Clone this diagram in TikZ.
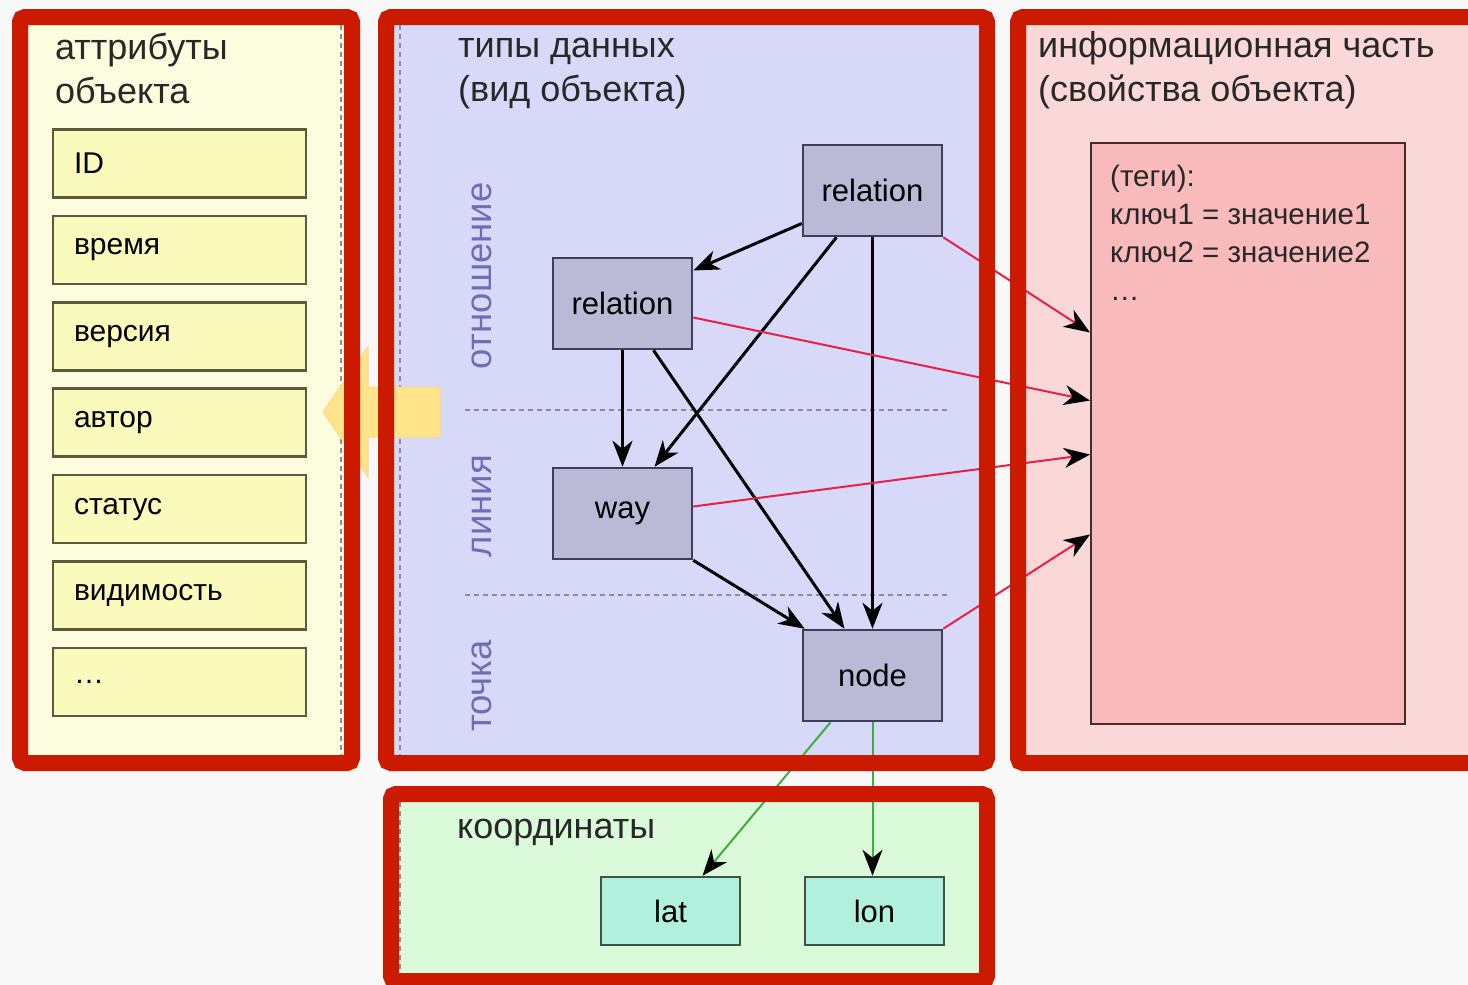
\documentclass[tikz,border=0pt]{standalone}
\usepackage{fontspec}
\setmainfont{Liberation Sans}
\usetikzlibrary{arrows.meta}
\definecolor{bggrey}{RGB}{248,248,248}
\definecolor{framered}{RGB}{204,26,0}
\definecolor{attrpanel}{RGB}{252,252,222}
\definecolor{attrfill}{RGB}{250,250,188}
\definecolor{attrline}{RGB}{90,90,60}
\definecolor{typepanel}{RGB}{216,216,248}
\definecolor{typefill}{RGB}{186,186,214}
\definecolor{typeline}{RGB}{62,62,92}
\definecolor{infopanel}{RGB}{250,216,216}
\definecolor{tagfill}{RGB}{248,186,186}
\definecolor{tagline}{RGB}{72,42,42}
\definecolor{coordpanel}{RGB}{218,250,218}
\definecolor{coordfill}{RGB}{176,240,220}
\definecolor{coordline}{RGB}{62,82,72}
\definecolor{levelblue}{RGB}{110,110,180}
\definecolor{sepgrey}{RGB}{140,140,165}
\definecolor{tagred}{RGB}{230,32,70}
\definecolor{coordgreen}{RGB}{60,176,60}
\definecolor{bigarrow}{RGB}{255,228,140}
\definecolor{titlegrey}{RGB}{40,40,40}
\tikzset{frame/.style={draw=framered, line width=16pt, rounded corners=5pt},
            title/.style={anchor=base west, align=left, inner sep=0pt, text=titlegrey,
                font=\fontsize{36}{44}\selectfont},
            level/.style={rotate=90, anchor=base, inner sep=0pt, text=levelblue,
                font=\fontsize{36.5}{40}\selectfont},
            attrbox/.style={draw=attrline, fill=attrfill, line width=2.5pt, minimum height=68pt,
                text width=211pt, inner xsep=21pt, align=left, font=\fontsize{30}{34}\selectfont},
            typebox/.style={draw=typeline, fill=typefill, line width=2.5pt, minimum width=139pt,
                minimum height=91pt, font=\fontsize{31}{34}\selectfont},
            coordbox/.style={draw=coordline, fill=coordfill, line width=2.5pt, minimum width=139pt,
                minimum height=68pt, font=\fontsize{31}{34}\selectfont},
            tip/.style={-{Stealth[length=26pt,width=20pt,inset=8pt,color=black]}},
            edge/.style={tip, line width=3pt},
            tagedge/.style={tip, draw=tagred, line width=2pt},
            coordedge/.style={tip, draw=coordgreen, line width=2pt},
            sep/.style={draw=sepgrey, line width=1.5pt, dash pattern=on 5pt off 4pt}}
\begin{document}
\begin{tikzpicture}[x=1pt,y=-1pt]
            \useasboundingbox (0,0) rectangle (1468,985);
            \fill[bggrey] (0,0) rectangle (1468,985);
            % panels
            \fill[attrpanel] (20,17) rectangle (352,763);
            \fill[typepanel] (386,17) rectangle (987,763);
            \fill[infopanel] (1018,17) rectangle (1476,763);
            \fill[coordpanel] (391,794) rectangle (987,981);
            \draw[sep] (341,25) -- (341,755);
            \draw[sep] (400,25) -- (400,755);
            \draw[sep] (400,802) -- (400,973);
            \draw[sep] (465,410) -- (948,410);
            \draw[sep] (465,595) -- (948,595);
            % big arrow
            \filldraw[fill=bigarrow, draw=bigarrow!90!orange, line width=1pt]
                (440,387) -- (368,387) -- (368,347) -- (323,412) -- (368,477) -- (368,437) -- (440,437) -- cycle;
            % titles (anchored at the last line)
            \node[title] (attrtitle) at (55,103) {аттрибуты\\объекта};
            \node[title] (typetitle) at (458,101) {типы данных\\(вид объекта)};
            \node[title] (infotitle) at (1038,101) {информационная часть\\(свойства объекта)};
            \node[title] (coordtitle) at (457,838) {координаты};
            \node[level] (lvlrel) at (491,276) {отношение};
            \node[level] (lvlway) at (491,506) {линия};
            \node[level] (lvlnode) at (491,686) {точка};
            % attributes
            \foreach \lbl [count=\i from 0] in {ID,время,версия,автор,статус,видимость,\ldots}
                \node[attrbox] (attr\i) at (179.5,163.5+86.4*\i) {\lbl};
            % object types
            \node[typebox] (relA) at (872.5,190.5) {relation};
            \node[typebox] (relB) at (622.5,303.5) {relation};
            \node[typebox] (way) at (622.5,513.5) {way};
            \node[typebox] (nd) at (872.5,675.5) {node};
            % tags
            \node[draw=tagline, fill=tagfill, line width=2pt, minimum width=314pt, minimum height=581pt]
                (tags) at (1248,433.5) {};
            \node[anchor=base west, align=left, inner sep=0pt, text=titlegrey,
                font=\fontsize{29.5}{38}\selectfont] (tagtext) at (1110,300)
                {(теги):\\ключ1 = значение1\\ключ2 = значение2\\\ldots};
            % coordinates
            \node[coordbox] (lat) at (670.5,911) {lat};
            \node[coordbox] (lon) at (874.5,911) {lon};
            % links
            \draw[edge] ([yshift=-33pt]relA.west) -- ([yshift=33pt]relB.east);
            \draw[edge] ([xshift=-36pt]relA.south) -- ([xshift=32pt]way.north);
            \draw[edge] (relA.south) -- (nd.north);
            \draw[edge] (relB.south) -- (way.north);
            \draw[edge] ([xshift=31pt]relB.south) -- ([xshift=-28pt]nd.north);
            \draw[edge] (way.south east) -- ([xshift=3pt]nd.north west);
            \draw[tagedge] (relA.south east) -- ([yshift=101pt]tags.west);
            \draw[tagedge] ([yshift=-14pt]relB.east) -- ([yshift=33pt]tags.west);
            \draw[tagedge] ([yshift=7pt]way.east) -- ([yshift=-21pt]tags.west);
            \draw[tagedge] (nd.north east) -- ([yshift=-101pt]tags.west);
            \draw[coordedge] ([xshift=-42pt]nd.south) -- ([xshift=32pt]lat.north);
            \draw[coordedge] (nd.south) -- ([xshift=-2pt]lon.north);
            % frames
            \draw[frame] (20,17) rectangle (352,763);
            \draw[frame] (386,17) rectangle (987,763);
            \draw[frame] (1018,17) rectangle (1476,763);
            \draw[frame] (391,794) rectangle (987,981);
        \end{tikzpicture}
\end{document}
